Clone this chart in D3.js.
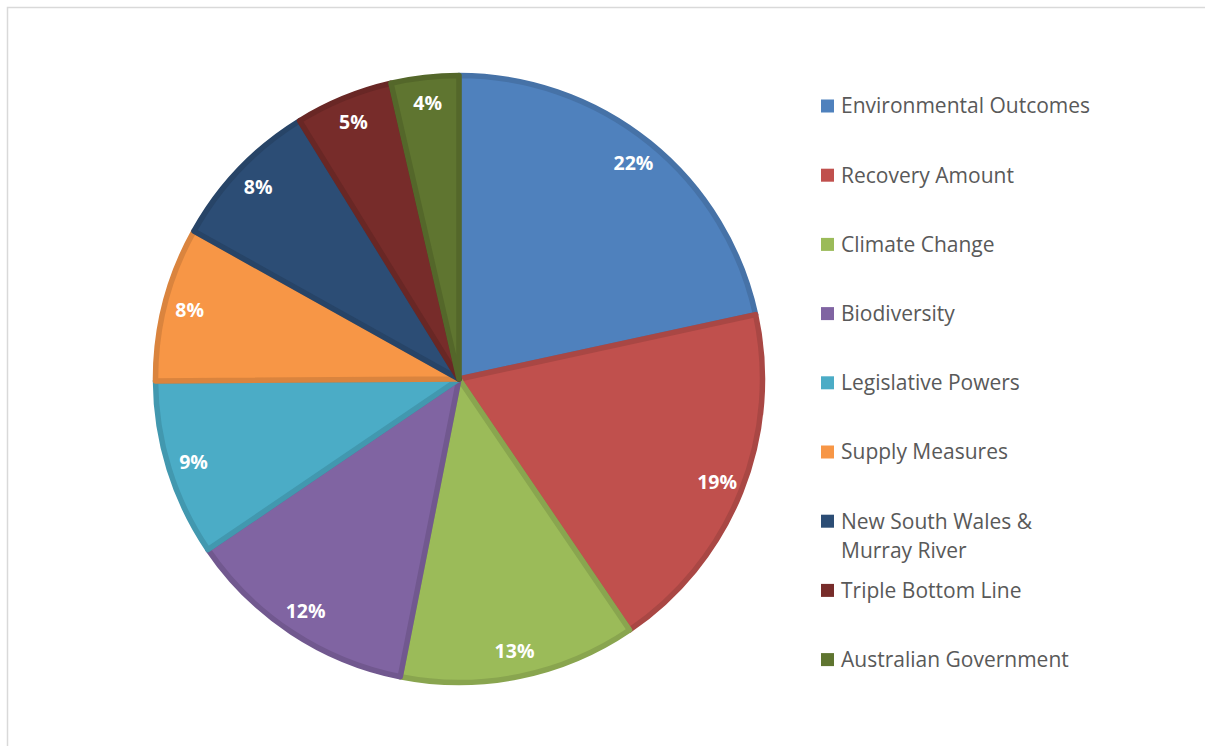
<!DOCTYPE html>
<html>
<head>
<meta charset="utf-8">
<script src="https://cdn.jsdelivr.net/npm/d3@7"></script>
<style>
  html, body { margin: 0; padding: 0; background: #fff; }
  svg { display: block; }
</style>
</head>
<body>
<svg id="chart" width="1205" height="746"></svg>
<script>
// chart data (share of responses, %)
var categories = [
	"Environmental Outcomes",
	"Recovery Amount",
	"Climate Change",
	"Biodiversity",
	"Legislative Powers",
	"Supply Measures",
	"New South Wales & Murray River",
	"Triple Bottom Line",
	"Australian Government"
];
var shares = [21.6, 18.9, 12.6, 12.4, 9.4, 8.2, 8.1, 5.2, 3.6];
var legendLines = [
	["Environmental Outcomes"],
	["Recovery Amount"],
	["Climate Change"],
	["Biodiversity"],
	["Legislative Powers"],
	["Supply Measures"],
	["New South Wales &", "Murray River"],
	["Triple Bottom Line"],
	["Australian Government"]
];
var colors = ["#4f81bd", "#c0504d", "#9bbb59", "#8064a2", "#4bacc6",
	"#f79646", "#2c4d75", "#772c2a", "#5f7530"];

var svg = d3.select("#chart");
var font = "'Open Sans', Lato, sans-serif";

// chart-area frame (only top and left edges fall inside the window)
svg.append("rect")
	.attr("x", 7.5).attr("y", 7.5)
	.attr("width", 1210).attr("height", 760)
	.attr("fill", "none")
	.attr("stroke", "#d9d9d9")
	.attr("stroke-width", 1.5);

var cx = 459, cy = 379, radius = 306;
var total = d3.sum(shares);

var pie = d3.pie().sort(null).value(function(d) { return d; });
var arcs = pie(shares);

var arc = d3.arc().innerRadius(0).outerRadius(radius - 2.5);
var labelArc = d3.arc().innerRadius(278).outerRadius(278);

var g = svg.append("g").attr("transform", "translate(" + cx + "," + cy + ")");

g.selectAll("path.slice")
	.data(arcs)
	.enter().append("path")
	.attr("class", "slice")
	.attr("d", arc)
	.attr("fill", function(d, i) { return colors[i]; })
	.attr("stroke", function(d, i) { return d3.color(colors[i]).darker(0.35); })
	.attr("stroke-width", 5.5)
	.attr("stroke-linejoin", "round");

var pct = d3.format(".0%");

g.selectAll("text.pct")
	.data(arcs)
	.enter().append("text")
	.attr("class", "pct")
	.attr("transform", function(d) { return "translate(" + labelArc.centroid(d) + ")"; })
	.attr("text-anchor", "middle")
	.attr("dy", "0.36em")
	.attr("fill", "#fff")
	.attr("font-family", font)
	.attr("font-weight", "bold")
	.attr("font-size", 19.5)
	.text(function(d) { return pct(d.value / total); });

// legend
var legendX = 821, legendY0 = 106, legendStep = 69.2;
var legend = svg.append("g");

var items = legend.selectAll("g.item")
	.data(categories)
	.enter().append("g")
	.attr("class", "item")
	.attr("transform", function(d, i) {
		return "translate(" + legendX + "," + (legendY0 + i * legendStep) + ")";
	});

items.append("rect")
	.attr("x", 0).attr("y", -6.5)
	.attr("width", 13).attr("height", 13)
	.attr("fill", function(d, i) { return colors[i]; });

items.append("text")
	.attr("x", 20)
	.attr("fill", "#595959")
	.attr("font-family", font)
	.attr("font-size", 21)
	.selectAll("tspan")
	.data(function(d, i) { return legendLines[i]; })
	.enter().append("tspan")
	.attr("x", 20)
	.attr("y", function(d, j) { return j * 29; })
	.attr("dy", "0.35em")
	.text(function(d) { return d; });
</script>
</body>
</html>
